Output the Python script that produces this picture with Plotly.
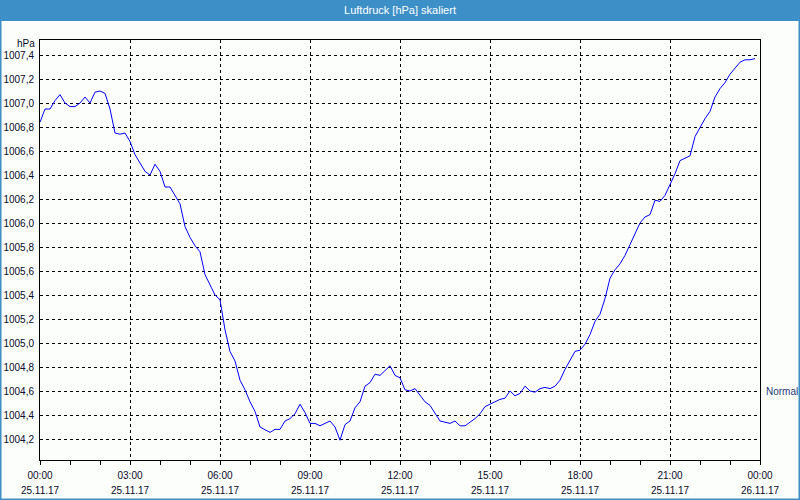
import plotly.graph_objects as go
import pandas as pd

# --- data -------------------------------------------------------------
start_time = "2017-11-25 00:00"
step_minutes = 10
pressure_hpa = [
    1006.84, 1006.95, 1006.95, 1007.02, 1007.07, 1007.00, 1006.97, 1006.97, 1007.00, 1007.05,
    1007.00, 1007.09, 1007.10, 1007.08, 1006.95, 1006.75, 1006.74, 1006.75, 1006.68, 1006.57,
    1006.50, 1006.43, 1006.40, 1006.49, 1006.43, 1006.30, 1006.30, 1006.23, 1006.16, 1005.97,
    1005.88, 1005.81, 1005.76, 1005.57, 1005.48, 1005.40, 1005.36, 1005.11, 1004.93, 1004.85,
    1004.69, 1004.61, 1004.51, 1004.43, 1004.30, 1004.28, 1004.255, 1004.28, 1004.28, 1004.35,
    1004.37, 1004.41, 1004.49, 1004.42, 1004.33, 1004.33, 1004.31, 1004.33, 1004.35, 1004.30,
    1004.19, 1004.32, 1004.35, 1004.46, 1004.51, 1004.64, 1004.67, 1004.74, 1004.73, 1004.77,
    1004.81, 1004.73, 1004.71, 1004.61, 1004.60, 1004.62, 1004.56, 1004.51, 1004.48, 1004.42,
    1004.35, 1004.34, 1004.33, 1004.35, 1004.31, 1004.31, 1004.34, 1004.37, 1004.41, 1004.47,
    1004.49, 1004.51, 1004.53, 1004.54, 1004.60, 1004.56, 1004.58, 1004.64, 1004.60, 1004.59,
    1004.62, 1004.63, 1004.62, 1004.64, 1004.69, 1004.78, 1004.86, 1004.93, 1004.94, 1004.99,
    1005.07, 1005.18, 1005.24, 1005.37, 1005.54, 1005.61, 1005.66, 1005.73, 1005.82, 1005.91,
    1006.00, 1006.05, 1006.07, 1006.19, 1006.18, 1006.23, 1006.32, 1006.41, 1006.52, 1006.54,
    1006.56, 1006.72, 1006.80, 1006.87, 1006.93, 1007.05, 1007.12, 1007.17, 1007.24, 1007.29,
    1007.34, 1007.36, 1007.36, 1007.37,
]
x_tick_vals = ["2017-11-25 00:00", "2017-11-25 03:00", "2017-11-25 06:00", "2017-11-25 09:00",
               "2017-11-25 12:00", "2017-11-25 15:00", "2017-11-25 18:00", "2017-11-25 21:00",
               "2017-11-26 00:00"]
x_tick_times = ["00:00", "03:00", "06:00", "09:00", "12:00", "15:00", "18:00", "21:00", "00:00"]
x_tick_dates = ["25.11.17"] * 8 + ["26.11.17"]
y_tick_vals = [round(1004.2 + 0.2 * k, 1) for k in range(17)]
normal_level = 1004.6
title_text = "Luftdruck [hPa] skaliert"
unit_text = "hPa"
normal_text = "Normal"

times = pd.date_range(start=start_time, periods=len(pressure_hpa), freq=f"{step_minutes}min")

# --- figure -----------------------------------------------------------
W, H = 800, 500
ML, MR, MT, MB = 40, 40, 40, 40
PW, PH = W - ML - MR, H - MT - MB

def px2paper_x(px):
    return (px - ML) / PW

def px2paper_y(py):
    return (H - MB - py) / PH

FONT = "Liberation Sans"
TXT = "#0a0a28"
BLUE_BAR = "#3d8fc7"
BG = "#fcfefc"

fig = go.Figure()
fig.add_trace(go.Scatter(
    x=times, y=pressure_hpa, mode="lines",
    line=dict(color="#0000ff", width=1),
    hoverinfo="skip", showlegend=False,
))
# invisible companion trace so the date axis (second row of x labels) is drawn
fig.add_trace(go.Scatter(
    x=[times[0], times[-1]], y=[pressure_hpa[0], pressure_hpa[-1]], xaxis="x2", mode="lines",
    line=dict(color="rgba(0,0,0,0)", width=0), hoverinfo="skip", showlegend=False,
))

common_x = dict(
    range=["2017-11-25 00:00", "2017-11-26 00:00"],
    tickmode="array", tickvals=x_tick_vals,
    zeroline=False, automargin=False, ticks="",
)

fig.update_layout(
    width=W, height=H,
    margin=dict(l=ML, r=MR, t=MT, b=MB),
    paper_bgcolor=BG, plot_bgcolor=BG,
    separators=",.",
    font=dict(family=FONT, size=10, color=TXT),
    title=dict(text=title_text, x=0.5, xanchor="center", y=1 - 10 / H, yanchor="middle",
               font=dict(family=FONT, size=11, color="white")),
    xaxis=dict(
        **common_x,
        ticktext=x_tick_times,
        showgrid=True, gridcolor="black", gridwidth=1, griddash="3px,3px",
        showline=True, linecolor="black", linewidth=1, mirror=True,
        minor=dict(dtick=3600000, ticks="outside", ticklen=4, tickcolor="black", showgrid=False),
        tickfont=dict(family=FONT, size=10, color=TXT),
        ticklabelstandoff=6,
    ),
    xaxis2=dict(
        **common_x,
        ticktext=x_tick_dates,
        overlaying="x", matches="x", anchor="y", side="bottom",
        showgrid=False, showline=False,
        tickfont=dict(family=FONT, size=10, color=TXT),
        ticklabelstandoff=23,
    ),
    yaxis=dict(
        range=[1004.025, 1007.525],
        tickmode="array", tickvals=y_tick_vals, tickformat=".1f",
        showgrid=True, gridcolor="black", gridwidth=1, griddash="3px,3px",
        showline=True, linecolor="black", linewidth=1, mirror=True,
        ticks="", zeroline=False, automargin=False,
        tickfont=dict(family=FONT, size=10, color=TXT),
        ticklabelstandoff=3,
    ),
    shapes=[
        dict(type="rect", xref="paper", yref="paper",
             x0=px2paper_x(0), x1=px2paper_x(W), y0=px2paper_y(21), y1=px2paper_y(0),
             fillcolor=BLUE_BAR, line=dict(width=0), layer="below"),
        dict(type="rect", xref="paper", yref="paper",
             x0=px2paper_x(0.75), x1=px2paper_x(W - 0.75), y0=px2paper_y(H - 0.75), y1=px2paper_y(0.75),
             fillcolor="rgba(0,0,0,0)", line=dict(color=BLUE_BAR, width=1.5)),
    ],
    annotations=[
        dict(text=unit_text, xref="paper", yref="paper", x=0, y=px2paper_y(44),
             xanchor="right", yanchor="middle", xshift=-3, showarrow=False,
             font=dict(family=FONT, size=10, color=TXT)),
        dict(text=normal_text, xref="paper", yref="y", x=1, y=normal_level,
             xanchor="left", yanchor="middle", xshift=4, showarrow=False,
             font=dict(family=FONT, size=10, color="#1c3a78")),
    ],
)

fig.write_html("out.html")
